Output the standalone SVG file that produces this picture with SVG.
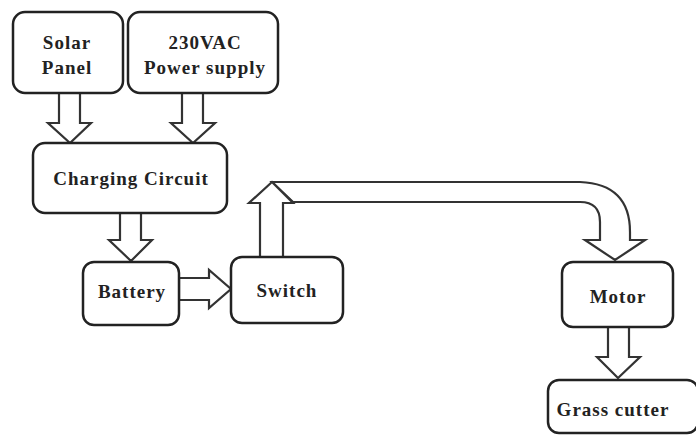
<svg xmlns="http://www.w3.org/2000/svg" width="696" height="436" viewBox="0 0 696 436">
<style>
.box{fill:#fff;stroke:#222;stroke-width:2.5}
.arr{fill:#fff;stroke:#333;stroke-width:2.2;stroke-linejoin:miter}
text{font-family:'Liberation Serif','DejaVu Serif',serif;font-weight:700;font-size:19px;fill:#222;text-anchor:middle;letter-spacing:1px}
</style>
<rect width="696" height="436" fill="#fff"/>
<g id="connectors">
<polygon class="arr" points="59,93 59,123 48,123 70,143 91,123 80,123 80,93"/>
<polygon class="arr" points="182,93 182,123 171,123 193,143 215,123 203,123 203,93"/>
<polygon class="arr" points="120,212 120,240 109,240 131,261 152,240 141,240 141,212"/>
<polygon class="arr" points="179,278 209,278 209,270 231,289 209,308 209,300 179,300"/>
<path class="arr" d="M272,182 L580,182 Q630,184 630,232 L630,240 L645,240 L615,260 L585,240 L600,240 L600,222 Q600,202 580,202 L293,202 Z"/>
<polygon class="arr" points="260,257 260,203 249,203 272,182 293,203 283,203 283,257"/>
<polygon class="arr" points="608,327 608,357 597,357 618,378 640,357 629,357 629,327"/>
</g>
<g id="solar"><rect class="box" x="13" y="12" width="110" height="81" rx="12"/><text x="67" y="49">Solar</text><text x="67" y="74">Panel</text></g>
<g id="ac"><rect class="box" x="128" y="12" width="150" height="81" rx="12"/><text x="205" y="49">230VAC</text><text x="205" y="74">Power supply</text></g>
<g id="charging"><rect class="box" x="33" y="143" width="194" height="70" rx="12"/><text x="131" y="185">Charging Circuit</text></g>
<g id="battery"><rect class="box" x="83" y="262" width="96" height="63" rx="11"/><text x="132" y="298">Battery</text></g>
<g id="switch"><rect class="box" x="231" y="257" width="112" height="66" rx="11"/><text x="287" y="297">Switch</text></g>
<g id="motor"><rect class="box" x="562" y="262" width="111" height="65" rx="11"/><text x="618" y="303">Motor</text></g>
<g id="grass"><rect class="box" x="548" y="380" width="150" height="53" rx="11"/><text x="613" y="416">Grass cutter</text></g>
</svg>
